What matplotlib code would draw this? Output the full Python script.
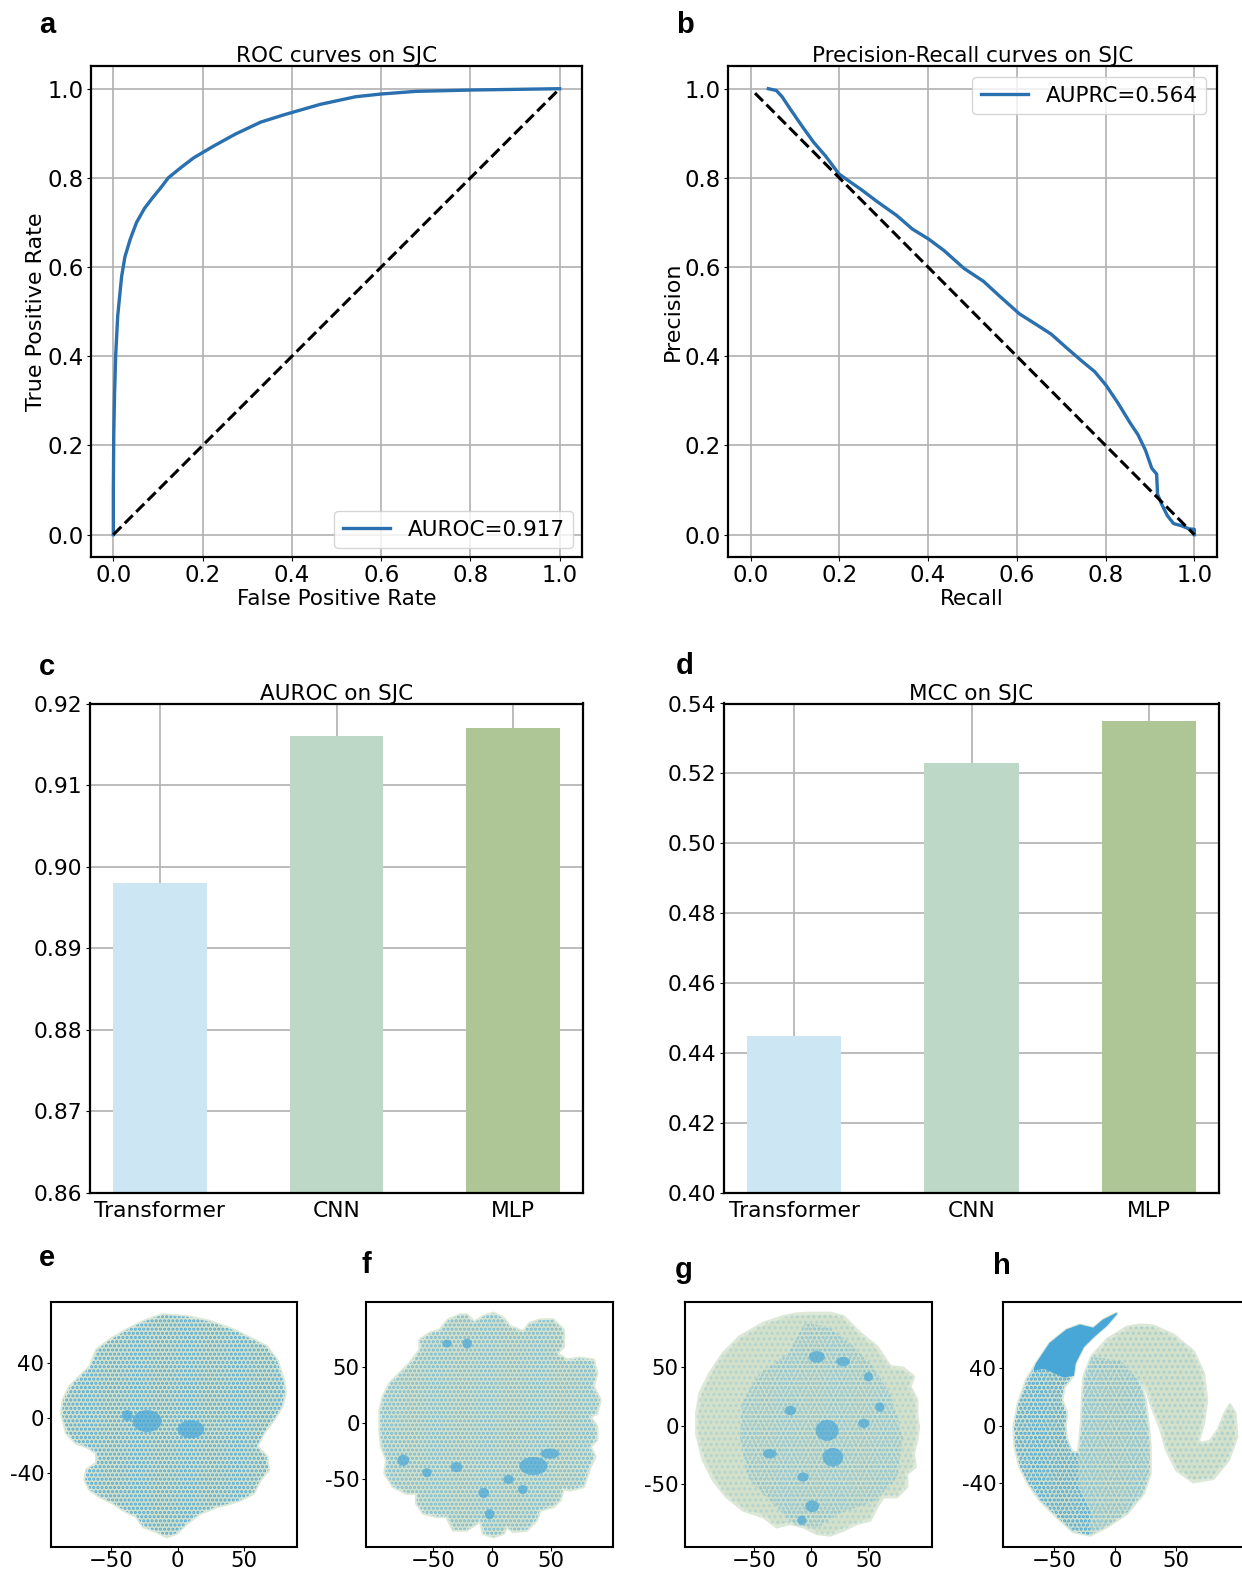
import matplotlib
matplotlib.use("Agg")
import matplotlib.pyplot as plt
from matplotlib.patches import Polygon, Ellipse

# ---------------- data ----------------
roc_fpr = [0.0, 0.0, 0.001, 0.0027, 0.0053, 0.0098, 0.0142, 0.0186, 0.026, 0.038, 0.052, 0.07,
           0.09, 0.108, 0.123, 0.15, 0.18, 0.224, 0.273, 0.33, 0.384, 0.464, 0.543, 0.599, 0.677,
           0.80, 1.0]
roc_tpr = [0.0, 0.10, 0.224, 0.313, 0.402, 0.490, 0.535, 0.579, 0.623, 0.663, 0.700, 0.732,
           0.758, 0.780, 0.800, 0.822, 0.845, 0.871, 0.898, 0.925, 0.942, 0.965, 0.982, 0.988,
           0.994, 0.997, 1.0]

pr_recall = [0.040, 0.058, 0.071, 0.089, 0.116, 0.142, 0.169, 0.199, 0.223, 0.249, 0.285,
             0.329, 0.365, 0.401, 0.436, 0.481, 0.525, 0.561, 0.606, 0.641, 0.677, 0.712,
             0.748, 0.775, 0.801, 0.828, 0.855, 0.873, 0.890, 0.904, 0.915, 0.917, 0.926,
             0.939, 0.953, 0.971, 0.988, 1.0, 1.0]
pr_precision = [1.0, 0.996, 0.982, 0.955, 0.916, 0.880, 0.849, 0.809, 0.792, 0.774, 0.747,
                0.716, 0.685, 0.663, 0.637, 0.597, 0.568, 0.535, 0.495, 0.473, 0.450, 0.419,
                0.388, 0.366, 0.335, 0.295, 0.251, 0.224, 0.189, 0.149, 0.136, 0.091, 0.069,
                0.043, 0.025, 0.020, 0.013, 0.012, 0.0]

roc_diag_x = [0.0, 1.0]
roc_diag_y = [0.0, 1.0]
pr_diag_x = [0.01, 1.0]
pr_diag_y = [0.99, 0.0]

auroc_label = "AUROC=0.917"
auprc_label = "AUPRC=0.564"

models = ["Transformer", "CNN", "MLP"]
auroc_vals = [0.898, 0.916, 0.917]
mcc_vals = [0.445, 0.523, 0.535]

# t-SNE panels: outlines of the point clouds (data units)
e_cloud = [(-10.8, 75.2), (6.8, 73.9), (24.4, 70.3), (42, 64.2), (57, 57), (67, 52), (74.6, 42.4),
           (79.6, 27.9), (80.9, 18.2), (78.4, 8.5), (72.1, -1.2), (64.6, -10.9), (59.5, -20.6),
           (67, -27.9), (68.3, -37.6), (62, -44.8), (57, -54.5), (47, -59.4), (39.4, -61.8),
           (29.4, -64.2), (16.8, -69.1), (6.8, -76.4), (-0.8, -83.6), (-8.3, -86.1), (-15.8, -82.4),
           (-25.9, -78.8), (-30.9, -71.5), (-41, -66.7), (-48.5, -61.8), (-58.5, -57), (-66, -52.1),
           (-69.8, -44.8), (-68.6, -37.6), (-61, -32.7), (-61, -25.5), (-68.6, -20.6), (-76.1, -18.2),
           (-83.7, -10.9), (-87.4, 3.6), (-86.2, 13.3), (-81.2, 23), (-73.6, 30.3), (-66, 37.6),
           (-61, 49.7), (-51, 57), (-38.4, 64.2), (-25.9, 70.3), (-15.8, 73.9)]
e_dense = [(-23, -2, 22, 16), (10, -8, 20, 13), (-38, 2, 8, 8)]

f_cloud = [(-27, 96.4), (-21.4, 96.4), (-15, 90), (-7.3, 95), (1.1, 98), (9.6, 93.5), (15.2, 86),
           (26.5, 81.6), (32.1, 89), (40.6, 92), (51.8, 92), (60.3, 83), (60.3, 68.2), (54.6, 62.3),
           (63.1, 56.4), (74.4, 57.9), (85.6, 56.4), (88.5, 44.5), (85.6, 32.6), (91.3, 20.8),
           (88.5, 8.9), (82.8, 5.9), (88.5, -3), (88.5, -14.8), (82.8, -20.8), (87, -29.7),
           (82.8, -38.6), (80, -47.5), (77.2, -56.4), (65.9, -59.3), (60.3, -57.9), (57.5, -68.2),
           (51.8, -74.2), (40.6, -77.2), (37.7, -86), (29.3, -95), (18, -96.4), (12.4, -92),
           (9.6, -98), (1.1, -101), (-7.3, -98), (-10.1, -86), (-12.9, -89), (-21.4, -95),
           (-32.7, -95), (-38.3, -83), (-46.8, -83), (-58, -80), (-63.7, -71.2), (-63.7, -62.3),
           (-72.1, -62.3), (-83.4, -56.4), (-90.4, -44.5), (-89, -32.6), (-93.2, -20.8),
           (-94.6, -8.9), (-94.6, 11.9), (-91.8, 23.7), (-86.2, 35.6), (-77.7, 44.5), (-69.3, 53.4),
           (-60.8, 65.3), (-60.8, 74.2), (-52.4, 80.1), (-43.9, 83), (-36.9, 92)]
f_dense = [(35, -38, 24, 16), (49, -27, 16, 9), (-75, -33, 10, 10), (-30, -39, 10, 9),
           (-55, -44, 8, 8), (-7, -62, 9, 9), (-2, -81, 8, 9), (14, -50, 9, 8), (26, -59, 8, 8),
           (-21, 71, 8, 9), (-38, 71, 8, 7)]

g_cloud = [(-0.9, 96.3), (16.6, 96.3), (28.2, 93.4), (42.7, 79.1), (57.3, 67.7), (68.9, 50.6),
           (80.5, 49.1), (89.2, 42), (86.3, 33.4), (92.1, 22), (92.1, 7.7), (93.6, -0.9),
           (92.1, -12.3), (89.2, -23.7), (90.7, -35.1), (83.4, -40.9), (83.4, -52.3), (74.7, -60.9),
           (63.1, -60.9), (57.3, -69.4), (51.4, -80.9), (39.8, -83.7), (28.2, -89.4), (16.6, -93.7),
           (4.9, -92.3), (-6.7, -86.6), (-18.3, -83.7), (-29.9, -86.6), (-41.6, -78), (-59, -72.3),
           (-73.5, -60.9), (-85.1, -46.6), (-93.9, -29.4), (-99.7, -6.6), (-99.7, 10.6),
           (-96.8, 27.7), (-88.1, 44.9), (-76.4, 62), (-61.9, 76.3), (-41.6, 87.7), (-24.1, 93.4),
           (-12.5, 95.7)]
g_blue = [(-45, 45), (-20, 62), (-5, 88), (15, 85), (35, 70), (55, 50), (70, 25), (80, -10),
          (75, -45), (55, -65), (25, -75), (5, -88), (-15, -85), (-35, -65), (-55, -45),
          (-62, -10), (-60, 20)]
g_dense = [(14, -4, 20, 18), (19, -27, 18, 16), (5, 59, 14, 10), (28, 55, 12, 8), (1, -69, 12, 10),
           (-8, -81, 8, 8), (-36, -24, 12, 8), (-18, 13, 10, 8), (46, 2, 10, 8), (-7, -44, 10, 8),
           (50, 42, 8, 8), (60, 16, 8, 8)]

h_cloud = [(1.4, 78.1), (-9.6, 73.5), (-17.8, 67.7), (-28.8, 70.0), (-39.7, 66.6), (-53.4, 57.3),
           (-64.4, 43.4), (-72.6, 31.8), (-79.4, 15.5), (-83.0, -0.7), (-82.2, -14.6), (-78.1, -28.5),
           (-71.2, -40.1), (-61.6, -51.7), (-47.9, -63.3), (-34.2, -73.7), (-20.5, -76.1),
           (-6.8, -70.3), (9.6, -61.0), (23.3, -47.1), (28.8, -33.2), (28.8, -14.6), (27.4, -0.7),
           (24.7, 17.9), (20.5, 30.6), (26.0, 24.8), (31.5, 10.9), (37.0, -0.7), (42.5, -16.9),
           (50.7, -30.8), (64.4, -39.0), (80.8, -36.6), (93.1, -23.9), (100.0, -7.7), (98.6, 8.6),
           (94.5, 14.4), (90.4, 8.6), (84.9, -3.0), (78.1, -11.1), (69.8, -12.3), (68.5, -10.0),
           (72.6, 1.6), (75.3, 17.9), (72.6, 36.4), (64.4, 51.5), (47.9, 63.1), (31.5, 69.3),
           (20.5, 70.0), (9.6, 68.4), (-6.8, 59.6), (-19.2, 48.0), (-25.5, 34.1), (-26.6, 20.2),
           (-27.4, 3.9), (-28.8, -10.0), (-30.1, -19.2), (-35.6, -18.1), (-39.7, -10.0),
           (-41.1, -0.7), (-39.7, 8.6), (-43.8, 17.9), (-41.9, 27.1), (-34.2, 35.2), (-32.9, 43.4),
           (-26.0, 55.0), (-17.8, 61.9), (-6.8, 70.0)]
h_solid = [(1.4, 78.1), (-9.6, 73.5), (-17.8, 67.7), (-28.8, 70), (-39.7, 66.6), (-53.4, 57.3),
           (-64.4, 43.4), (-66.5, 39), (-58, 40), (-50, 37), (-42, 34), (-34.2, 35.2), (-32.9, 43.4),
           (-26, 55), (-17.8, 61.9), (-6.8, 70)]
h_dense = [(-64.4, 43.4), (-72.6, 31.8), (-79.4, 15.5), (-83, -0.7), (-82.2, -14.6),
           (-78.1, -28.5), (-71.2, -40.1), (-61.6, -51.7), (-47.9, -63.3), (-34.2, -73.7),
           (-20.5, -76.1), (-20, -60), (-30.1, -40), (-30.1, -19.2), (-35.6, -18.1), (-39.7, -10),
           (-41.1, -0.7), (-39.7, 8.6), (-43.8, 17.9), (-41.9, 27.1), (-34.2, 35.2), (-42, 34),
           (-50, 37), (-58, 40), (-66.5, 39)]
h_medium = [(-20.5, -76.1), (-6.8, -70.3), (9.6, -61), (23.3, -47.1), (28.8, -33.2), (28.8, -14.6),
            (27.4, -0.7), (24.7, 17.9), (20.5, 30.6), (5, 45), (-19.2, 48), (-25.5, 34.1),
            (-26.6, 20.2), (-27.4, 3.9), (-28.8, -10), (-30.1, -19.2), (-30.1, -40), (-20, -60)]

# ---------------- style ----------------
plt.rcParams["font.family"] = ["DejaVu Sans"]
plt.rcParams["hatch.linewidth"] = 1.5
BLUE_LINE = "#2a6fae"
BAR_COLORS = ["#cce6f4", "#bed8c8", "#aec695"]
GREEN = "#d3e1cb"
GREEN_EDGE = "#dde8d6"
DOT_BLUE = "#49a7d7"
GRID = "#b0b0b0"
AB_TICK_FS = 16.4
AB_LAB_FS = 15.5
CD_TICK_FS = 15.7
SC_TICK_FS = 15.3

W, H = 1242, 1569
fig = plt.figure(figsize=(W / 100, H / 100), dpi=100)


def ax_px(l, t, r, b):
    return fig.add_axes([l / W, 1 - b / H, (r - l) / W, (b - t) / H])


def frame(ax, lw=1.6):
    for s in ax.spines.values():
        s.set_linewidth(lw)
        s.set_color("black")


# ---- a: ROC ----
ax = ax_px(91, 66.4, 582, 557)
ax.plot(roc_fpr, roc_tpr, color=BLUE_LINE, lw=2.4, label=auroc_label, zorder=3)
ax.plot(roc_diag_x, roc_diag_y, "k--", lw=2.2, zorder=3)
ax.set_xlim(-0.05, 1.05)
ax.set_ylim(-0.05, 1.05)
ax.set_xticks([0, 0.2, 0.4, 0.6, 0.8, 1.0])
ax.set_yticks([0, 0.2, 0.4, 0.6, 0.8, 1.0])
ax.grid(True, color=GRID, lw=1.2)
ax.tick_params(labelsize=AB_TICK_FS, length=3, pad=2)
ax.set_xlabel("False Positive Rate", fontsize=AB_LAB_FS, labelpad=1.5)
ax.set_ylabel("True Positive Rate", fontsize=AB_LAB_FS + 0.5, labelpad=1)
ax.set_title("ROC curves on SJC", fontsize=AB_LAB_FS, pad=2)
ax.legend(loc="lower right", fontsize=AB_LAB_FS, handlelength=2.2, borderaxespad=0.4)
frame(ax)

# ---- b: PR ----
ax = ax_px(727.5, 66.4, 1217, 557)
ax.plot(pr_recall, pr_precision, color=BLUE_LINE, lw=2.4, label=auprc_label, zorder=3)
ax.plot(pr_diag_x, pr_diag_y, "k--", lw=2.2, zorder=3)
ax.set_xlim(-0.052, 1.051)
ax.set_ylim(-0.05, 1.05)
ax.set_xticks([0, 0.2, 0.4, 0.6, 0.8, 1.0])
ax.set_yticks([0, 0.2, 0.4, 0.6, 0.8, 1.0])
ax.grid(True, color=GRID, lw=1.2)
ax.tick_params(labelsize=AB_TICK_FS, length=3, pad=2)
ax.set_xlabel("Recall", fontsize=AB_LAB_FS, labelpad=1.5)
ax.set_ylabel("Precision", fontsize=AB_LAB_FS + 0.5, labelpad=1)
ax.set_title("Precision-Recall curves on SJC", fontsize=AB_LAB_FS, pad=2)
ax.legend(loc="upper right", fontsize=AB_LAB_FS, handlelength=2.2, borderaxespad=0.5)
frame(ax)

# ---- c / d: bars ----
for (l, r), vals, title, lo, hi, step in [((90, 583), auroc_vals, "AUROC on SJC", 0.86, 0.92, 0.01),
                                           ((724, 1219), mcc_vals, "MCC on SJC", 0.40, 0.54, 0.02)]:
    ax = ax_px(l, 703.5, r, 1193)
    xs = list(range(len(models)))
    ax.bar(xs, vals, width=0.53, color=BAR_COLORS, zorder=2)
    ax.set_ylim(lo, hi)
    n = int(round((hi - lo) / step))
    ax.set_yticks([lo + i * step for i in range(n + 1)])
    ax.set_xticks(xs, models)
    ax.set_xlim(-0.394, 2.394)
    ax.set_axisbelow(True)
    ax.grid(True, color=GRID, lw=1.2)
    ax.tick_params(labelsize=CD_TICK_FS, length=3, pad=2.5)
    ax.tick_params(axis="x", length=0, pad=6)
    ax.set_title(title, fontsize=AB_LAB_FS, pad=2)
    frame(ax)

# ---- e-h: t-SNE ----
# regions: (outline, hatch, alpha of the dots)
tsne_panels = [
    dict(l=50.7, r=297.3, xlim=(-95.7, 90.1), ylim=(-93.4, 84.8), yt=[-40, 0, 40],
         cloud=e_cloud, regions=[(e_cloud, "....", 0.95)], dense=e_dense, solid=None),
    dict(l=366, r=613.3, xlim=(-106.5, 102.5), ylim=(-109.9, 108.3), yt=[-50, 0, 50],
         cloud=f_cloud, regions=[(f_cloud, "....", 0.65)], dense=f_dense, solid=None),
    dict(l=685, r=931.7, xlim=(-109.9, 105.2), ylim=(-103.7, 106.3), yt=[-50, 0, 50],
         cloud=g_cloud, regions=[(g_cloud, "...", 0.2), (g_blue, "....", 0.45)], dense=g_dense,
         solid=None),
    dict(l=1002.7, r=1249.7, xlim=(-92.3, 110.7), ylim=(-84.2, 86.3), yt=[-40, 0, 40],
         cloud=h_cloud, regions=[(h_cloud, "...", 0.25), (h_medium, "....", 0.5),
                                 (h_dense, "....", 1.0)],
         dense=[], solid=h_solid),
]
for p in tsne_panels:
    ax = ax_px(p["l"], 1301.7, p["r"], 1546.7)
    ax.add_patch(Polygon(p["cloud"], closed=True, facecolor=GREEN, edgecolor=GREEN_EDGE,
                         lw=2.5, joinstyle="round", zorder=1))
    for poly, hatch, a in p["regions"]:
        ax.add_patch(Polygon(poly, closed=True, fill=False, edgecolor=DOT_BLUE, lw=0,
                             hatch=hatch, alpha=a, zorder=2))
    for (cx, cy, w, h) in p["dense"]:
        ax.add_patch(Ellipse((cx, cy), w, h, facecolor=DOT_BLUE, edgecolor="none",
                             alpha=0.7, zorder=3))
    if p["solid"] is not None:
        ax.add_patch(Polygon(p["solid"], closed=True, facecolor=DOT_BLUE, edgecolor=DOT_BLUE,
                             lw=1, zorder=3))
    ax.set_xlim(*p["xlim"])
    ax.set_ylim(*p["ylim"])
    ax.set_xticks([-50, 0, 50])
    ax.set_yticks(p["yt"], [str(v) for v in p["yt"]])
    ax.tick_params(labelsize=SC_TICK_FS, length=3, pad=1.5)
    ax.tick_params(axis="x", pad=0.3)
    frame(ax, 1.5)

# ---- panel letters ----
for letter, x, y in [("a", 47, 25), ("b", 685, 25), ("c", 47, 667), ("d", 685, 666),
                     ("e", 47, 1258), ("f", 366, 1265), ("g", 684, 1270), ("h", 1002, 1266)]:
    fig.text(x / W, 1 - y / H, letter, fontsize=21, fontweight="bold",
             family="Liberation Sans", ha="center", va="center")

fig.savefig("out.png", dpi=100)
